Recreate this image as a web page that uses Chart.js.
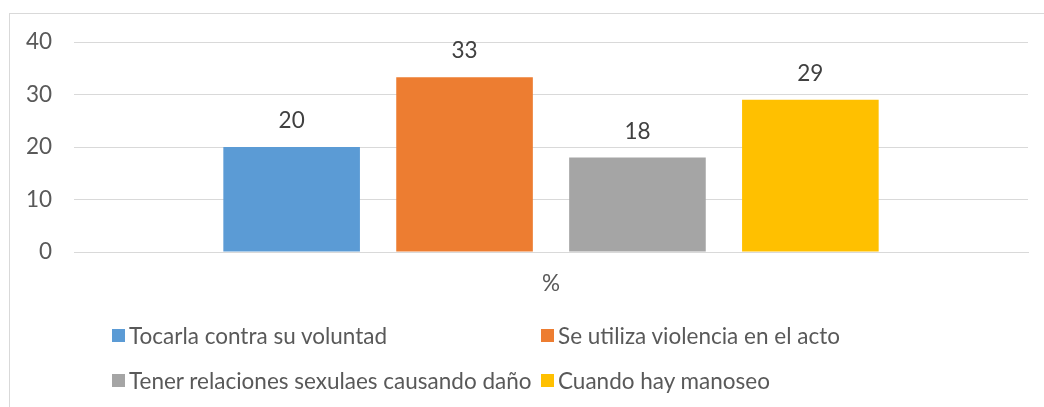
<!DOCTYPE html>
<html>
<head>
<meta charset="utf-8">
<script src="https://cdn.jsdelivr.net/npm/chart.js@4.4.1/dist/chart.umd.min.js"></script>
<style>
    body { margin: 0; background: #fff; overflow: hidden; }
    #wrap { position: relative; width: 1044px; height: 407px; }
    #frame { position: absolute; left: 9px; top: 13px; width: 1100px; height: 500px; border: 1px solid #d9d9d9; }
    #chart { position: absolute; left: 0; top: 0; }
    .leg { position: absolute; font-family: Lato, "Liberation Sans", sans-serif; font-size: 22.5px; color: #595959; white-space: nowrap; line-height: 24px; }
    .leg span.box { position: absolute; left: 0; top: 5px; width: 13px; height: 13px; }
    .leg span.txt { position: absolute; left: 17px; top: 0; }
</style>
</head>
<body>
<div id="wrap">
    <div id="frame"></div>
    <canvas id="chart" width="1044" height="407"></canvas>
    <div id="legend"></div>
</div>
<script>
// data
const categories = ['%'];
const seriesNames = [
    'Tocarla contra su voluntad',
    'Se utiliza violencia en el acto',
    'Tener relaciones sexulaes causando daño',
    'Cuando hay manoseo'
];
const seriesValues = [20, 33.3, 18, 29];
const seriesColors = ['#5b9bd5', '#ed7d31', '#a5a5a5', '#ffc000'];
const yTicks = [0, 10, 20, 30, 40];

const FONT = 'Lato, "Liberation Sans", sans-serif';

document.addEventListener('DOMContentLoaded', () => {
    const ctx = document.getElementById('chart').getContext('2d');

    // value labels above each bar
    const valueLabels = {
        id: 'valueLabels',
        afterDatasetsDraw(chart) {
            const c = chart.ctx;
            c.save();
            c.font = '22.5px ' + FONT;
            c.fillStyle = '#404040';
            c.textAlign = 'center';
            c.textBaseline = 'middle';
            chart.data.datasets.forEach((ds, i) => {
                chart.getDatasetMeta(i).data.forEach((bar, j) => {
                    c.fillText(Math.round(ds.data[j]), bar.x, bar.y - 26);
                });
            });
            c.restore();
        }
    };

    new Chart(ctx, {
        type: 'bar',
        data: {
            labels: categories,
            datasets: seriesNames.map((name, i) => ({
                label: name,
                data: [seriesValues[i]],
                backgroundColor: seriesColors[i],
                categoryPercentage: 0.725,
                barPercentage: 0.79
            }))
        },
        options: {
            responsive: false,
            animation: false,
            layout: { padding: { top: 42, right: 16, left: 0, bottom: 0 } },
            plugins: {
                legend: { display: false },
                tooltip: { enabled: false }
            },
            scales: {
                x: {
                    grid: { display: false },
                    border: { color: '#d9d9d9' },
                    ticks: { color: '#595959', font: { family: FONT, size: 22.5 }, padding: 10 },
                    afterFit: scale => { scale.height = 155; }
                },
                y: {
                    min: yTicks[0],
                    max: yTicks[yTicks.length - 1],
                    afterBuildTicks: scale => { scale.ticks = yTicks.map(v => ({ value: v })); },
                    grid: { color: '#d9d9d9', drawTicks: false },
                    border: { display: false },
                    ticks: { color: '#595959', font: { family: FONT, size: 22.5 }, padding: 22 },
                    afterFit: scale => { scale.width = 74; }
                }
            }
        },
        plugins: [valueLabels]
    });

    // legend in two columns, like the original
    const legend = document.getElementById('legend');
    const legendPos = [[112, 324], [541, 324], [112, 369], [541, 369]];
    seriesNames.forEach((name, i) => {
        const item = document.createElement('div');
        item.className = 'leg';
        item.style.left = legendPos[i][0] + 'px';
        item.style.top = legendPos[i][1] + 'px';
        item.innerHTML = '<span class="box" style="background:' + seriesColors[i] + '"></span><span class="txt"></span>';
        item.querySelector('.txt').textContent = name;
        legend.appendChild(item);
    });
});
</script>
</body>
</html>
